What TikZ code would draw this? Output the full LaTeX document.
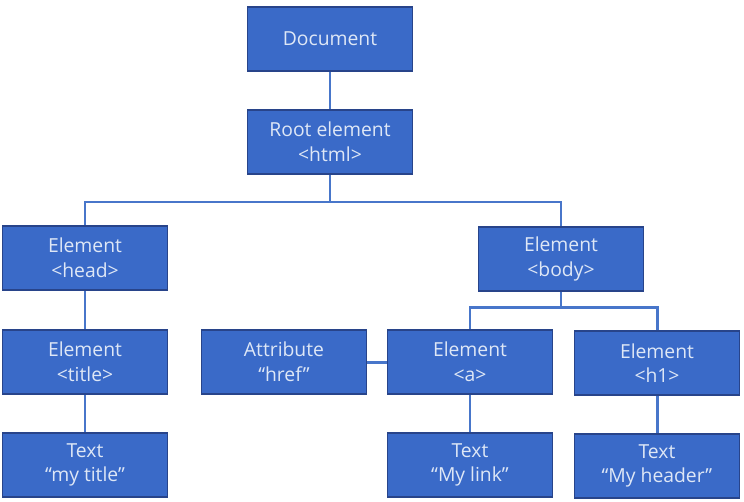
\documentclass[tikz,border=0pt]{standalone}
\usepackage{fontspec}
\setmainfont{Open Sans}
\usetikzlibrary{positioning}

\definecolor{boxfill}{RGB}{58,106,200}
\definecolor{boxline}{RGB}{40,68,138}
\definecolor{wire}{RGB}{72,118,202}
\definecolor{boxtext}{RGB}{222,231,246}

\begin{document}
\begin{tikzpicture}[x=0.02cm,y=-0.02cm]
		\tikzstyle{domnode}=[draw=boxline,line width=0.9pt,fill=boxfill,text=boxtext,minimum width=3.3cm,minimum height=1.28cm,align=center,font=\fontsize{11}{14}\selectfont,inner sep=1pt]
		\tikzstyle{link}=[draw=wire,line width=1.7pt]
		
		\useasboundingbox (0,0) rectangle (744,501);
		
		\node[domnode] (doc) at (330,39) {Document};
		\node[domnode] (root) at (330,142) {Root element\\<html>};
		
		\node[domnode] (head) at (85,258) {Element\\<head>};
		\node[domnode] (body) at (561,259) {Element\\<body>};
		
		\node[domnode] (title) at (85,362) {Element\\<title>};
		\node[domnode] (attr) at (284,362) {Attribute\\``href''};
		\node[domnode] (anchor) at (470,362) {Element\\<a>};
		\node[domnode] (hone) at (657,363) {Element\\<h1>};
		
		\node[domnode] (titletext) at (85,465) {Text\\``my title''};
		\node[domnode] (linktext) at (470,465) {Text\\``My link''};
		\node[domnode] (headertext) at (657,466) {Text\\``My header''};
		
		\coordinate (bus) at (330,202);
		\coordinate (bodybus) at (561,307);
		
		\draw [link] (doc) -- (root);
		\draw [link] (root) -- (bus);
		\draw [link] (head) |- (bus) -| (body);
		\draw [link] (body) -- (bodybus);
		\draw [link] (anchor) |- (bodybus) -| (hone);
		\draw [link] (head) -- (title);
		\draw [link] (title) -- (titletext);
		\draw [link] (attr) -- (anchor);
		\draw [link] (anchor) -- (linktext);
		\draw [link] (hone) -- (headertext);
\end{tikzpicture}
\end{document}
